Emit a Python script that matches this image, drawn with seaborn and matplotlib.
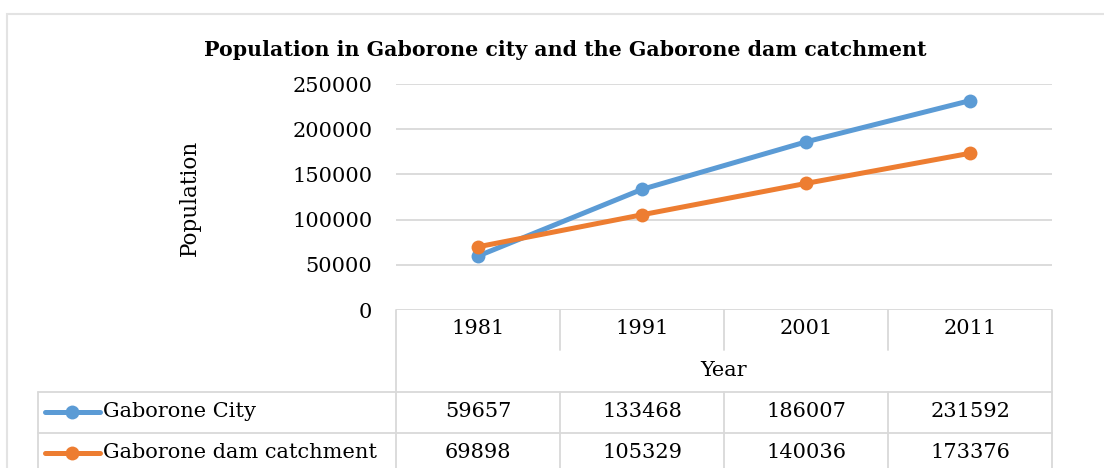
import pandas as pd
import matplotlib.pyplot as plt
from matplotlib.lines import Line2D
from matplotlib.patches import Rectangle
import seaborn as sns

years = ['1981', '1991', '2001', '2011']
city = [59657, 133468, 186007, 231592]
dam = [69898, 105329, 140036, 173376]
series_names = ['Gaborone City', 'Gaborone dam catchment']
colors = ['#5B9BD5', '#ED7D31']

sns.set_theme(style='white')
plt.rcParams['font.family'] = ['DejaVu Serif']
plt.rcParams['text.color'] = 'black'
plt.rcParams['ytick.color'] = 'black'

W, H = 1104, 468
fig = plt.figure(figsize=(W / 100, H / 100), dpi=100)


def fx(x):
    return x / W


def fy(y):
    return 1 - y / H


grid_c = '#D9D9D9'

# outer chart border
fig.add_artist(Rectangle((fx(7), fy(480)), fx(1110) - fx(7), fy(14) - fy(480),
                         transform=fig.transFigure, fill=False, edgecolor='#E3E3E3', lw=1.5))

left, right, top, bottom = 396, 1052, 84, 310
ax = fig.add_axes([fx(left), fy(bottom), fx(right - left), fy(top) - fy(bottom)])

df = pd.DataFrame({
    'x': list(range(len(years))) * 2,
    'Population': city + dam,
    'Series': [series_names[0]] * len(years) + [series_names[1]] * len(years),
})
sns.lineplot(data=df, x='x', y='Population', hue='Series', palette=colors,
             marker='o', markersize=10, markeredgewidth=0, linewidth=3.6, ax=ax, legend=False)

ax.set_xlim(-0.5, len(years) - 0.5)
ax.set_ylim(0, 250000)
ax.set_yticks(range(0, 250001, 50000))
ax.set_yticklabels([str(v) for v in range(0, 250001, 50000)], fontsize=15)
ax.set_xticks([])
ax.set_xlabel('')
ax.set_ylabel('')
ax.tick_params(axis='y', length=0, pad=17)
ax.grid(axis='y', color=grid_c, lw=1.3)
for s in ax.spines.values():
    s.set_visible(False)
ax.set_axisbelow(True)

fig.text(fx(565), fy(50), 'Population in Gaborone city and the Gaborone dam catchment',
         ha='center', va='center', fontsize=14.8, fontweight='bold')
fig.text(fx(190), fy(198), 'Population', rotation=90, ha='center', va='center', fontsize=15.5)


def hline(y, x0, x1):
    fig.add_artist(Line2D([fx(x0), fx(x1)], [fy(y), fy(y)], transform=fig.transFigure, color=grid_c, lw=1.3))


def vline(x, y0, y1):
    fig.add_artist(Line2D([fx(x), fx(x)], [fy(y0), fy(y1)], transform=fig.transFigure, color=grid_c, lw=1.3))


# data table under the plot
col_w = (right - left) / len(years)
edges = [left + i * col_w for i in range(len(years) + 1)]
centers = [left + (i + 0.5) * col_w for i in range(len(years))]
row_y = [392, 433, 474]

vline(left, bottom, 470)
vline(right, bottom, 470)
for x in edges[1:-1]:
    vline(x, bottom, 350)
    vline(x, row_y[0], 470)
vline(38, row_y[0], 470)
for y in row_y[:2]:
    hline(y, 38, right)

for c, yr in zip(centers, years):
    fig.text(fx(c), fy(329), yr, ha='center', va='center', fontsize=15)
fig.text(fx((left + right) / 2), fy(371), 'Year', ha='center', va='center', fontsize=15)

for i, (name, vals, col) in enumerate(zip(series_names, [city, dam], colors)):
    yc = (row_y[i] + row_y[i + 1]) / 2 - 1
    fig.add_artist(Line2D([fx(45), fx(100)], [fy(yc), fy(yc)], transform=fig.transFigure,
                          color=col, lw=3.6))
    fig.add_artist(Line2D([fx(72)], [fy(yc)], transform=fig.transFigure, color=col,
                          marker='o', markersize=10, markeredgewidth=0))
    fig.text(fx(103), fy(yc), name, ha='left', va='center', fontsize=15)
    for c, v in zip(centers, vals):
        fig.text(fx(c), fy(yc), str(v), ha='center', va='center', fontsize=15)

fig.savefig('out.png', dpi=100)
